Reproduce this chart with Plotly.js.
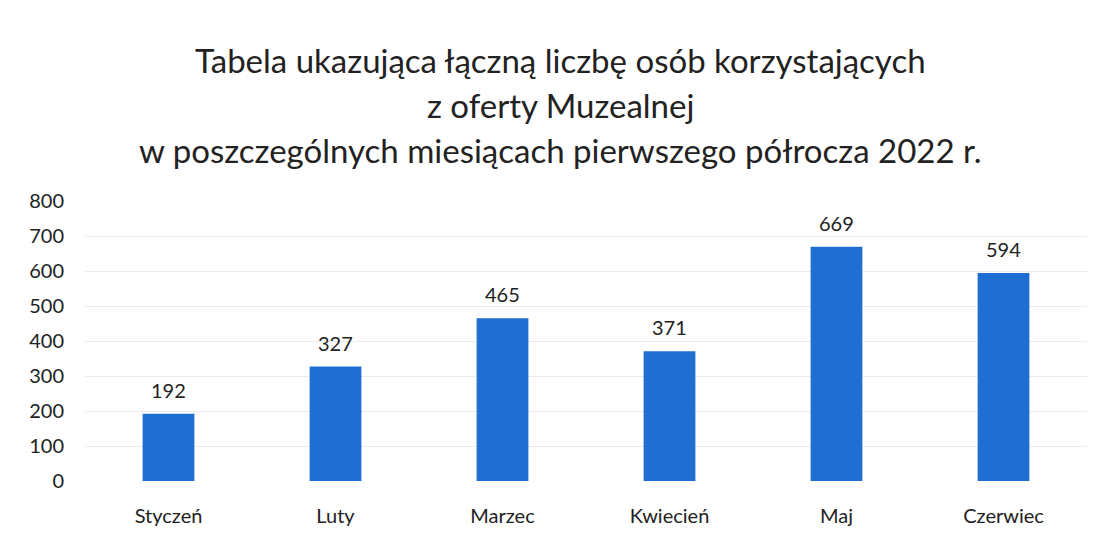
<!DOCTYPE html>
<html><head><meta charset="utf-8">
<script src="https://cdn.plot.ly/plotly-3.0.1.min.js"></script>
<style>body{margin:0;background:#fff}#c{width:1105px;height:536px}</style>
</head><body><div id="c"></div>
<script>
const months = ["Styczeń","Luty","Marzec","Kwiecień","Maj","Czerwiec"];
const visitors = [192,327,465,371,669,594];
const yTicks = [0,100,200,300,400,500,600,700,800];
const titleLines = ["Tabela ukazująca łączną liczbę osób korzystających","z oferty Muzealnej","w poszczególnych miesiącach pierwszego półrocza 2022 r."];

const labelFont = {family:'Lato, sans-serif', size:20, color:'#222'};
const titleFont = {family:'Lato, sans-serif', size:33, color:'#222'};
const titleY = [1.505, 1.343, 1.182];
const annotations = months.map((m,i)=>({x:m, y:visitors[i], xref:'x', yref:'y', text:String(visitors[i]),
    showarrow:false, yanchor:'bottom', yshift:10, font:labelFont}))
  .concat(titleLines.map((t,i)=>({text:t, xref:'paper', yref:'paper', x:0.475, y:titleY[i],
    xanchor:'center', yanchor:'middle', showarrow:false, font:titleFont})));

Plotly.newPlot('c', [{
  type:'bar', x:months, y:visitors,
  marker:{color:'#1f6fd2'},
  width:0.31
}], {
  width:1105, height:536,
  paper_bgcolor:'#fff', plot_bgcolor:'#fff',
  margin:{l:85, r:18, t:201, b:55},
  xaxis:{tickfont:labelFont, showline:false, ticks:'', fixedrange:true, ticklabelstandoff:21},
  yaxis:{range:[0,800], tickvals:yTicks, ticktext:yTicks.map(String), gridcolor:'#ececec', zeroline:false,
    tickfont:labelFont, ticks:'', ticklabelstandoff:20},
  annotations: annotations,
  showlegend:false
}, {staticPlot:true});
</script></body></html>
